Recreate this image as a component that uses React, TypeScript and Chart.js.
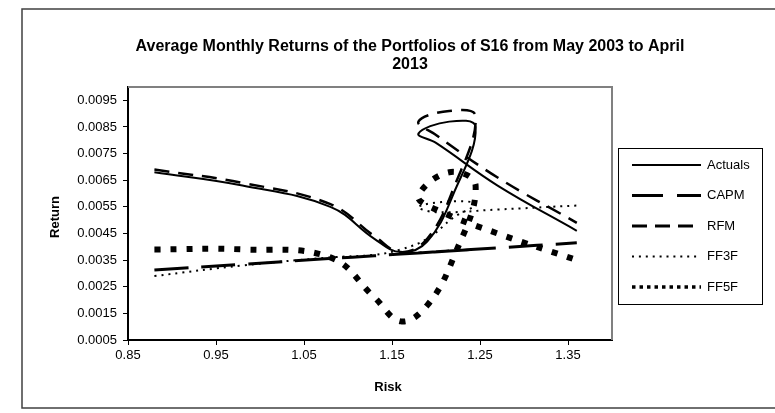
import React, { useEffect, useRef } from "react";
import { Chart, registerables } from "chart.js";

Chart.register(...registerables);

// ---- data ----
const seriesNames = ["Actuals", "CAPM", "RFM", "FF3F", "FF5F"];
const risk = [0.88, 0.98, 1.08, 1.13, 1.16, 1.19, 1.22, 1.245, 1.215, 1.18, 1.2, 1.27, 1.36];
const actuals = [0.0068, 0.0063, 0.0055, 0.0043, 0.0038, 0.0042, 0.006, 0.0085, 0.0087, 0.00825, 0.0079, 0.0063, 0.0046];
const capm = [0.00313, 0.00334, 0.00356, 0.00366, 0.00373, 0.00379, 0.00385, 0.00391, 0.00384, 0.00377, 0.00381, 0.00396, 0.00415];
const rfm = [0.0069, 0.0064, 0.0056, 0.0044, 0.0038, 0.0043, 0.0062, 0.0089, 0.0091, 0.0087, 0.0082, 0.0066, 0.0049];
const ff3f = [0.0029, 0.0033, 0.0036, 0.0037, 0.0039, 0.0043, 0.0051, 0.0056, 0.0057, 0.0055, 0.0053, 0.0054, 0.00555];
const ff5f = [0.0039, 0.0039, 0.0036, 0.0021, 0.0012, 0.0018, 0.0036, 0.0063, 0.0068, 0.0059, 0.0054, 0.0045, 0.0035];
const riskTicks = [0.85, 0.95, 1.05, 1.15, 1.25, 1.35];
const returnTicks = [0.0005, 0.0015, 0.0025, 0.0035, 0.0045, 0.0055, 0.0065, 0.0075, 0.0085, 0.0095];
const titleLines = ["Average Monthly Returns of the Portfolios of S16 from May 2003 to April", "2013"];
const xTitle = "Risk";
const yTitle = "Return";

// ---- styles ----
const seriesValues = [actuals, capm, rfm, ff3f, ff5f];
const lineStyles = [
  { width: 2, dash: [] as number[], legendWidth: 2, legendDash: [] as number[] },
  { width: 3, dash: [34, 13], legendWidth: 3, legendDash: [31, 14] },
  { width: 2.5, dash: [15, 9], legendWidth: 3, legendDash: [15, 8] },
  { width: 2, dash: [2, 5], legendWidth: 2, legendDash: [2, 4.9] },
  { width: 6, dash: [6, 10], legendWidth: 3.5, legendDash: [3.5, 4] },
];
const FONT = "'Liberation Sans', Arial, sans-serif";

const decorPlugin = {
  id: "decor",
  afterDraw(chart: any) {
    const ctx = chart.ctx as CanvasRenderingContext2D;
    const a = chart.chartArea;
    ctx.save();
    // outer border
    ctx.strokeStyle = "#404040";
    ctx.lineWidth = 1.5;
    ctx.setLineDash([]);
    ctx.strokeRect(22, 9, 776, 399);
    // plot area top/right
    ctx.strokeStyle = "#808080";
    ctx.lineWidth = 2;
    ctx.beginPath();
    ctx.moveTo(a.left, a.top);
    ctx.lineTo(a.right, a.top);
    ctx.lineTo(a.right, a.bottom);
    ctx.stroke();
    // title
    ctx.fillStyle = "#000";
    ctx.textAlign = "center";
    ctx.textBaseline = "middle";
    ctx.font = `bold 16px ${FONT}`;
    ctx.fillText(titleLines[0], 410, 47);
    ctx.fillText(titleLines[1], 410, 65);
    // axis titles
    ctx.font = `bold 13px ${FONT}`;
    ctx.fillText(xTitle, 388, 387);
    ctx.save();
    ctx.translate(55, 217);
    ctx.rotate(-Math.PI / 2);
    ctx.fillText(yTitle, 0, 0);
    ctx.restore();
    // legend
    ctx.strokeStyle = "#000";
    ctx.lineWidth = 1;
    ctx.strokeRect(618.5, 148.5, 144, 156);
    ctx.font = `13px ${FONT}`;
    ctx.textAlign = "left";
    seriesNames.forEach((name, i) => {
      const y = 165 + i * 30.5;
      const st = lineStyles[i];
      ctx.beginPath();
      ctx.lineWidth = st.legendWidth;
      ctx.setLineDash(st.legendDash);
      ctx.moveTo(632, y);
      ctx.lineTo(701, y);
      ctx.stroke();
      ctx.setLineDash([]);
      ctx.fillText(name, 707, y);
    });
    ctx.restore();
  },
};

export default function App() {
  const ref = useRef<HTMLCanvasElement | null>(null);
  useEffect(() => {
    if (!ref.current) return;
    const datasets = seriesNames.map((name, i) => ({
      label: name,
      data: risk.map((x, j) => ({ x, y: seriesValues[i][j] })),
      showLine: true,
      borderColor: "#000",
      backgroundColor: "#000",
      borderWidth: lineStyles[i].width,
      borderDash: lineStyles[i].dash,
      pointRadius: 0,
      tension: 0.4,
      fill: false,
      order: seriesNames.length - 1 - i,
    }));
    const chart = new Chart(ref.current, {
      type: "scatter",
      data: { datasets },
      options: {
        responsive: false,
        animation: false,
        devicePixelRatio: 1,
        events: [],
        layout: { padding: { top: 87, right: 163, left: 0, bottom: 0 } },
        plugins: { legend: { display: false }, title: { display: false }, tooltip: { enabled: false } },
        scales: {
          x: {
            type: "linear",
            min: 0.85,
            max: 1.4,
            afterBuildTicks: (s: any) => {
              s.ticks = riskTicks.map((v) => ({ value: v }));
            },
            afterFit: (s: any) => {
              s.height = 73;
            },
            grid: { drawOnChartArea: false, drawTicks: true, tickLength: 5, color: "#000", lineWidth: 1 },
            border: { display: true, color: "#000", width: 2 },
            ticks: {
              color: "#000",
              font: { family: FONT, size: 13 },
              padding: 3,
              maxRotation: 0,
              autoSkip: false,
              callback: (v: any) => Number(v).toFixed(2),
            },
          },
          y: {
            type: "linear",
            min: 0.0005,
            max: 0.01,
            afterBuildTicks: (s: any) => {
              s.ticks = returnTicks.map((v) => ({ value: v }));
            },
            afterFit: (s: any) => {
              s.width = 128;
            },
            grid: { drawOnChartArea: false, drawTicks: true, tickLength: 5, color: "#000", lineWidth: 1 },
            border: { display: true, color: "#000", width: 2 },
            ticks: {
              color: "#000",
              font: { family: FONT, size: 13 },
              padding: 6,
              autoSkip: false,
              callback: (v: any) => Number(v).toFixed(4),
            },
          },
        },
      },
      plugins: [decorPlugin],
    } as any);
    return () => chart.destroy();
  }, []);
  return (
    <div style={{ position: "fixed", left: 0, top: 0, width: 775, height: 413, background: "#fff" }}>
      <canvas ref={ref} width={775} height={413} style={{ display: "block" }} />
    </div>
  );
}
